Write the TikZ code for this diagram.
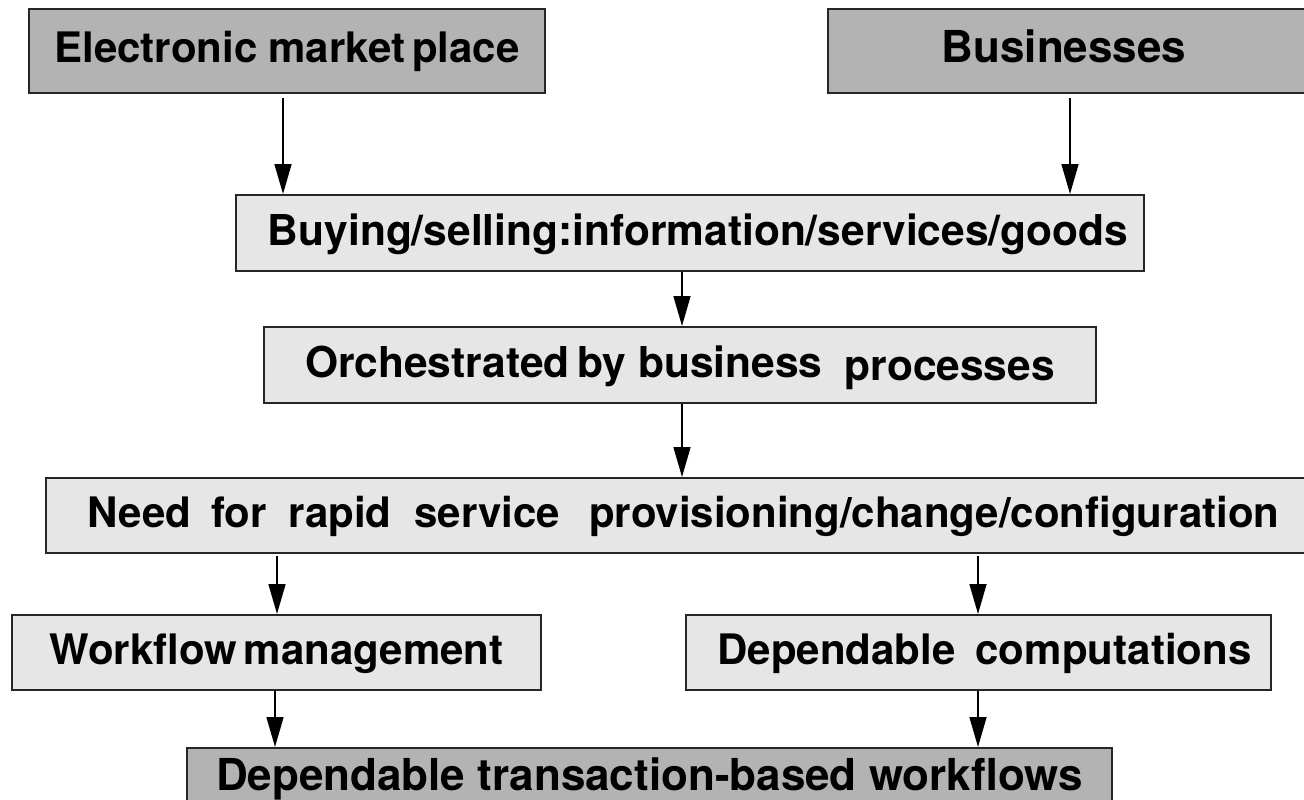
\documentclass[tikz,border=0pt]{standalone}
\usepackage{fontspec}
\setmainfont{TeX Gyre Heros}
\usetikzlibrary{arrows.meta}
\definecolor{darkfill}{HTML}{B3B3B3}
\definecolor{lightfill}{HTML}{E6E6E6}
\definecolor{edge}{HTML}{262626}
\begin{document}
\begin{tikzpicture}[x=1pt,y=-1pt,
  box/.style={draw=edge, line width=2pt, anchor=north west, inner sep=0pt,
    text height=30pt, text depth=6pt, font=\bfseries\fontsize{42}{50}\selectfont},
  darkbox/.style={box, fill=darkfill},
  lightbox/.style={box, fill=lightfill},
  arr/.style={line width=1.5pt, -{Triangle[length=30pt,width=17pt]}}]
\useasboundingbox (0,0) rectangle (1304,800);
\fill[white] (0,0) rectangle (1304,800);

\node[darkbox, minimum width=516pt, minimum height=84pt] (emp) at (28,8)
  {Electronic\hspace{11pt}market\hspace{7pt}place};
\node[darkbox, minimum height=84pt] (biz) at (827,8)
  {\makebox[472pt]{\fontsize{44}{50}\selectfont Businesses}\hspace*{60pt}};
\node[lightbox, minimum width=908pt, minimum height=76pt,
  font=\bfseries\fontsize{42.5}{50}\selectfont] (buy) at (235,194)
  {\hspace*{16pt}Buying/selling:information/services/goods};
\node[lightbox, minimum width=832pt, minimum height=76pt,
  font=\bfseries\fontsize{42.5}{50}\selectfont] (orch) at (263,326)
  {Orchestrated\hspace{8pt}by\hspace{12pt}business\hspace{22pt}\raisebox{-3pt}{processes}};
\node[lightbox, minimum width=1275pt, minimum height=75pt] (need) at (45,477)
  {Need\hspace{20pt}for\hspace{22pt}rapid\hspace{23pt}service\hspace{29pt}provisioning/change/configuration};
\node[lightbox, minimum width=529pt, minimum height=75pt] (wfm) at (11,614)
  {Workflow\hspace{7pt}management};
\node[lightbox, minimum width=585pt, minimum height=75pt] (dc) at (685,614)
  {\hspace*{12pt}Dependable\hspace{20pt}computations};
\node[darkbox, minimum width=925pt, minimum height=60pt,
  font=\bfseries\fontsize{44}{50}\selectfont] (dtw) at (186,747)
  {Dependable transaction-based workflows};

\coordinate (xa) at (283,0);
\coordinate (xb) at (1070,0);
\coordinate (xc) at (682,0);
\coordinate (xd) at (277,0);
\coordinate (xe) at (978,0);
\coordinate (xf) at (275,0);

\draw[arr] ([yshift=-4pt]emp.south -| xa) -- (buy.north -| xa);
\draw[arr] ([yshift=-4pt]biz.south -| xb) -- (buy.north -| xb);
\draw[arr] (buy.south -| xc) -- (orch.north -| xc);
\draw[arr] (orch.south -| xc) -- (need.north -| xc);
\draw[arr] ([yshift=-2pt]need.south -| xd) -- (wfm.north -| xd);
\draw[arr] ([yshift=-2pt]need.south -| xe) -- (dc.north -| xe);
\draw[arr] (wfm.south -| xf) -- (dtw.north -| xf);
\draw[arr] (dc.south -| xe) -- (dtw.north -| xe);
\end{tikzpicture}
\end{document}
